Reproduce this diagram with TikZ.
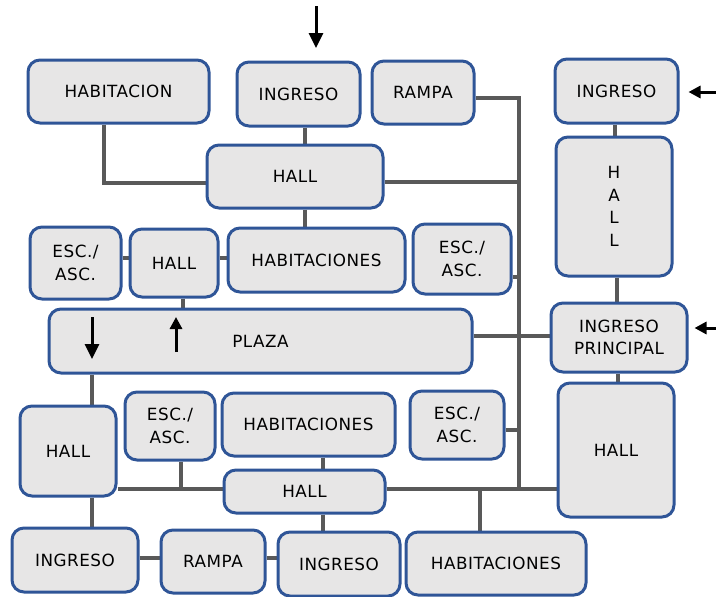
\documentclass[tikz,border=0pt]{standalone}
\usepackage{fontspec}
\setmainfont{DejaVu Sans}[LetterSpace=3]
\usetikzlibrary{arrows.meta,backgrounds}
\definecolor{boxblue}{RGB}{47,85,151}
\definecolor{boxgray}{RGB}{231,230,230}
\definecolor{linkgray}{RGB}{89,89,89}
\tikzset{
  box/.style={draw=boxblue, fill=boxgray, line width=3pt, rounded corners=12pt,
    align=center, inner sep=0pt, font=\fontsize{16.8}{22.5}\selectfont},
  link/.style={draw=linkgray, line width=4pt},
  flow/.style={draw=black, line width=3pt, -{Triangle[width=14pt,length=15pt]}},
  flowsm/.style={draw=black, line width=3pt, -{Triangle[width=12pt,length=12pt]}},
}
\begin{document}
\begin{tikzpicture}[x=1pt,y=-1pt]
\useasboundingbox (0,0) rectangle (716,597);

% upper block
\node[box, minimum width=181, minimum height=63] (hab1) at (118.5,91.5) {HABITACION};
\node[box, minimum width=123, minimum height=64] (ing1) at (298.5,94) {INGRESO};
\node[box, minimum width=102, minimum height=63] (ramp1) at (423,92.5) {RAMPA};
\node[box, minimum width=176, minimum height=63] (hall1) at (295,176.5) {HALL};
\node[box, minimum width=91, minimum height=72] (esc1) at (75.5,263) {ESC./\\ASC.};
\node[box, minimum width=88, minimum height=68] (hall2) at (174,263) {HALL};
\node[box, minimum width=177, minimum height=64] (habs1) at (316.5,260) {HABITACIONES};
\node[box, minimum width=98, minimum height=70] (esc2) at (462,259) {ESC./\\ASC.};
\node[box, minimum width=423, minimum height=64] (plaza) at (260.5,341) {PLAZA};

% right column
\node[box, minimum width=123, minimum height=64] (ing2) at (616.5,91) {INGRESO};
\node[box, minimum width=116, minimum height=139] (hallv) at (614,206.5) {H\\A\\L\\L};
\node[box, minimum width=136, minimum height=69] (ingp) at (619,337.5) {INGRESO\\PRINCIPAL};
\node[box, minimum width=116, minimum height=134] (hall5) at (616,450) {HALL};

% lower block
\node[box, minimum width=96, minimum height=90] (hall3) at (68,451) {HALL};
\node[box, minimum width=90, minimum height=68] (esc3) at (170,426) {ESC./\\ASC.};
\node[box, minimum width=173, minimum height=63] (habs2) at (308.5,424.5) {HABITACIONES};
\node[box, minimum width=94, minimum height=68] (esc4) at (457,425) {ESC./\\ASC.};
\node[box, minimum width=161, minimum height=43] (hall4) at (304.5,491.5) {HALL};
\node[box, minimum width=126, minimum height=64] (ing3) at (75,560) {INGRESO};
\node[box, minimum width=104, minimum height=63] (ramp2) at (213,561.5) {RAMPA};
\node[box, minimum width=122, minimum height=64] (ing4) at (339,564) {INGRESO};
\node[box, minimum width=180, minimum height=63] (habs3) at (496,563.5) {HABITACIONES};

% junction points of the corridors
\coordinate (habturn) at (104,183);
\coordinate (busT) at (519,98);
\coordinate (busB) at (519,489);
\coordinate (bushall) at (519,182);
\coordinate (busesc2) at (519,277);
\coordinate (busesc4) at (519,430);
\coordinate (ybot) at (0,489);
\coordinate (esc3j) at (181,489);
\coordinate (habs3j) at (480,489);
\coordinate (xc1) at (305,0);
\coordinate (xhall2) at (183,0);
\coordinate (xr1) at (615,0);
\coordinate (xr2) at (617,0);
\coordinate (xr3) at (618,0);
\coordinate (xl) at (92,0);
\coordinate (xc2) at (323,0);
\coordinate (yplaza) at (0,336);
\coordinate (yrow) at (0,258);
\coordinate (ybotrow) at (0,558);

\begin{pgfonlayer}{background}
  \draw[link] (hab1.south -| habturn) -- (habturn) -- (hall1.west |- habturn);
  \draw[link] (ing1.south -| xc1) -- (hall1.north -| xc1);
  \draw[link] (hall1.south -| xc1) -- (habs1.north -| xc1);
  \draw[link] (ramp1.east |- busT) -- (busT) -- (busB);
  \draw[link] (hall1.east |- bushall) -- (bushall);
  \draw[link] (esc2.east |- busesc2) -- (busesc2);
  \draw[link] (esc4.east |- busesc4) -- (busesc4);
  \draw[link] (plaza.east |- yplaza) -- (ingp.west |- yplaza);
  \draw[link] (esc1.east |- yrow) -- (hall2.west |- yrow);
  \draw[link] (hall2.east |- yrow) -- (habs1.west |- yrow);
  \draw[link] (hall2.south -| xhall2) -- (plaza.north -| xhall2);
  \draw[link] (ing2.south -| xr1) -- (hallv.north -| xr1);
  \draw[link] (hallv.south -| xr2) -- (ingp.north -| xr2);
  \draw[link] (ingp.south -| xr3) -- (hall5.north -| xr3);
  \draw[link] (plaza.south -| xl) -- (hall3.north -| xl);
  \draw[link] (hall3.south -| xl) -- (ing3.north -| xl);
  \draw[link] (hall3.east |- ybot) -- (hall4.west |- ybot);
  \draw[link] (hall4.east |- ybot) -- (hall5.west |- ybot);
  \draw[link] (esc3.south -| esc3j) -- (esc3j);
  \draw[link] (habs2.south -| xc2) -- (hall4.north -| xc2);
  \draw[link] (hall4.south -| xc2) -- (ing4.north -| xc2);
  \draw[link] (habs3j) -- (habs3.north -| habs3j);
  \draw[link] (ing3.east |- ybotrow) -- (ramp2.west |- ybotrow);
  \draw[link] (ramp2.east |- ybotrow) -- (ing4.west |- ybotrow);
\end{pgfonlayer}

% entrance arrows
\coordinate (topin) at (316,6);
\coordinate (topend) at (316,48);
\coordinate (rin1) at (716,92);
\coordinate (rin2) at (716,328);
\draw[flow] (topin) -- (topend);
\draw[flowsm] (rin1) -- ([xshift=9pt]ing2.east |- rin1);
\draw[flowsm] (rin2) -- ([xshift=6pt]ingp.east |- rin2);

% circulation arrows inside the plaza
\coordinate (pdown) at (92,317);
\coordinate (pdownend) at (92,359);
\coordinate (pup) at (176,352);
\coordinate (pupend) at (176,317);
\draw[flow] (pdown) -- (pdownend);
\draw[flowsm] (pup) -- (pupend);
\end{tikzpicture}
\end{document}
